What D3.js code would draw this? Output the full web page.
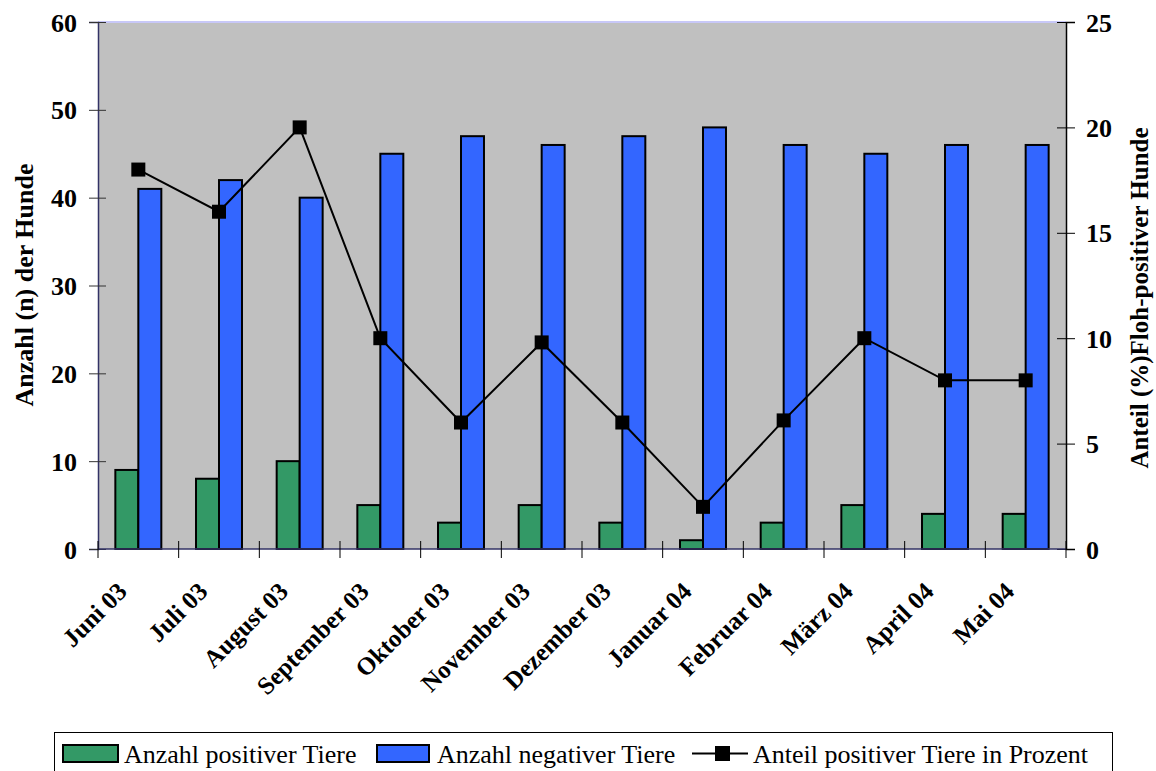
<!DOCTYPE html>
<html><head><meta charset="utf-8">
<script src="https://cdn.jsdelivr.net/npm/d3@7"></script>
<style>body{margin:0;background:#fff}svg{display:block}</style>
</head><body>
<script>
const categories = ["Juni 03","Juli 03","August 03","September 03","Oktober 03","November 03","Dezember 03","Januar 04","Februar 04","März 04","April 04","Mai 04"];
const positive = [9,8,10,5,3,5,3,1,3,5,4,4];
const negative = [41,42,40,45,47,46,47,48,46,45,46,46];
const percent = [18,16,20,10,6,9.8,6,2,6.1,10,8,8];
const leftTicks = [0,10,20,30,40,50,60];
const rightTicks = [0,5,10,15,20,25];

const W=1156,H=771;
const m={l:98,r:1066,t:22,b:549};
const svg=d3.select("body").append("svg").attr("width",W).attr("height",H);
const FF='"Liberation Serif"';

const x=d3.scaleBand().domain(categories).range([m.l,m.r]);
const yL=d3.scaleLinear().domain([0,60]).range([m.b,m.t]);
const yR=d3.scaleLinear().domain([0,25]).range([m.b,m.t]);

svg.append("rect").attr("x",m.l).attr("y",m.t).attr("width",m.r-m.l).attr("height",m.b-m.t).attr("fill","#c0c0c0");
svg.append("line").attr("x1",m.l).attr("x2",m.r).attr("y1",m.t).attr("y2",m.t).attr("stroke","#c8c8f8").attr("stroke-width",2);

const bw=x.bandwidth()*0.285;
const g=svg.append("g");
categories.forEach((c,i)=>{
  const cx=x(c)+x.bandwidth()/2;
  g.append("rect").attr("x",cx-bw).attr("y",yL(positive[i])).attr("width",bw).attr("height",yL(0)-yL(positive[i]))
    .attr("fill","#339966").attr("stroke","#000").attr("stroke-width",2);
  g.append("rect").attr("x",cx).attr("y",yL(negative[i])).attr("width",bw).attr("height",yL(0)-yL(negative[i]))
    .attr("fill","#3366ff").attr("stroke","#000").attr("stroke-width",2);
});

const line=d3.line().x((d,i)=>x(categories[i])+x.bandwidth()/2).y(d=>yR(d));
svg.append("path").datum(percent).attr("d",line).attr("fill","none").attr("stroke","#000").attr("stroke-width",2);
svg.selectAll(".pt").data(percent).enter().append("rect")
  .attr("x",(d,i)=>x(categories[i])+x.bandwidth()/2-7).attr("y",d=>yR(d)-7).attr("width",14).attr("height",14).attr("fill","#000");

function styleText(sel,size,weight){sel.style("font-family",FF).style("font-weight",weight).style("font-size",size+"px").attr("fill","#000");}

// left axis
const axL=svg.append("g").attr("transform",`translate(${m.l},0)`).call(d3.axisLeft(yL).tickValues(leftTicks).tickSize(9).tickPadding(12));
axL.attr("font-family",null);
axL.select(".domain").attr("stroke","#333366").attr("stroke-width",1.5);
axL.selectAll(".tick line").attr("x2",-9).attr("x1",8).attr("stroke","#333");
axL.selectAll("text").call(styleText,26,"bold").attr("dy","0.35em");

const axR=svg.append("g").attr("transform",`translate(${m.r},0)`).call(d3.axisRight(yR).tickValues(rightTicks).tickSize(9).tickPadding(11));
axR.attr("font-family",null);
axR.select(".domain").attr("stroke","#000").attr("stroke-width",1.5);
axR.selectAll(".tick line").attr("x1",-9).attr("x2",9).attr("stroke","#000");
axR.selectAll("text").call(styleText,26,"bold").attr("dy","0.35em");

// bottom axis
svg.append("line").attr("x1",m.l).attr("x2",m.r).attr("y1",m.b).attr("y2",m.b).attr("stroke","#333366").attr("stroke-width",1.5);
const bticks=categories.map(c=>x(c)).concat([m.r]);
svg.selectAll(".bt").data(bticks).enter().append("line")
  .attr("x1",d=>d).attr("x2",d=>d).attr("y1",m.b-8).attr("y2",m.b+9).attr("stroke","#000");
svg.selectAll(".xl").data(categories).enter().append("text")
  .attr("transform",c=>`translate(${x(c)+x.bandwidth()/2-10},${m.b+44}) rotate(-45)`)
  .attr("text-anchor","end")
  .call(styleText,25,"bold").text(c=>c);

// axis titles
svg.append("text").attr("transform",`translate(33,${285}) rotate(-90)`).attr("text-anchor","middle")
  .call(styleText,26,"bold").text("Anzahl (n) der Hunde");
svg.append("text").attr("transform",`translate(1148,${298}) rotate(-90)`).attr("text-anchor","middle")
  .call(styleText,25,"bold").text("Anteil (%)Floh-positiver Hunde");

// legend
const lg=svg.append("g");
lg.append("rect").attr("x",54.5).attr("y",732.5).attr("width",1058).attr("height",50).attr("fill","#fff").attr("stroke","#000").attr("stroke-width",1);
const ly=753.5;
lg.append("rect").attr("x",63).attr("y",ly-8.5).attr("width",55).attr("height",17).attr("fill","#339966").attr("stroke","#000").attr("stroke-width",2);
lg.append("text").attr("x",124).attr("y",763).call(styleText,26,"normal").text("Anzahl positiver Tiere");
lg.append("rect").attr("x",377).attr("y",ly-8.5).attr("width",52).attr("height",17).attr("fill","#3366ff").attr("stroke","#000").attr("stroke-width",2);
lg.append("text").attr("x",437).attr("y",763).call(styleText,26,"normal").text("Anzahl negativer Tiere");
lg.append("line").attr("x1",692).attr("x2",748).attr("y1",ly).attr("y2",ly).attr("stroke","#000").attr("stroke-width",2);
lg.append("rect").attr("x",715).attr("y",ly-7.5).attr("width",15).attr("height",15).attr("fill","#000");
lg.append("text").attr("x",753).attr("y",763).call(styleText,26,"normal").text("Anteil positiver Tiere in Prozent");
</script>
</body></html>
